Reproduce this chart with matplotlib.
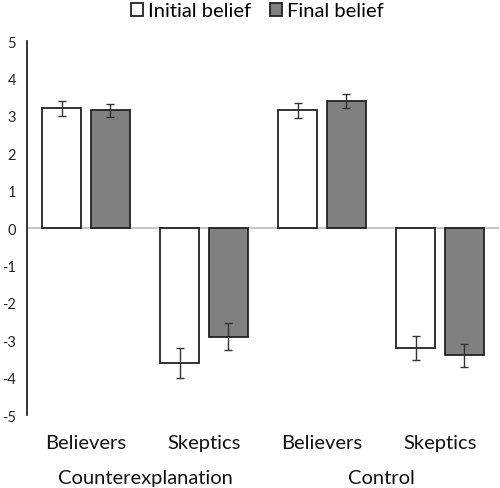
import matplotlib.pyplot as plt
import numpy as np

plt.rcParams['font.family'] = ['Lato', 'DejaVu Sans']

categories = ['Believers', 'Skeptics', 'Believers', 'Skeptics']
groups = ['Counterexplanation', 'Control']
initial = [3.2, -3.6, 3.15, -3.2]
initial_err = [0.2, 0.4, 0.2, 0.32]
final = [3.15, -2.9, 3.4, -3.4]
final_err = [0.17, 0.35, 0.18, 0.3]
yticks = list(range(-5, 6))

fig = plt.figure(figsize=(5.0, 4.89), dpi=100)
ax = fig.add_axes([0.054, 0.149, 0.944, 0.765])

x = np.arange(len(categories))
w = 0.335
off = 0.207
ek = dict(ecolor='#333333', elinewidth=1, capsize=3, capthick=1)
ax.bar(x - off, initial, w, color='white', edgecolor='#222222', linewidth=1.3,
       yerr=initial_err, error_kw=ek, label='Initial belief')
ax.bar(x + off, final, w, color='#808080', edgecolor='#222222', linewidth=1.3,
       yerr=final_err, error_kw=ek, label='Final belief')

ax.axhline(0, color='#bbbbbb', lw=1.2, zorder=0)
ax.set_xlim(-0.5, 3.5)
ax.set_ylim(-5, 5)
ax.set_yticks(yticks)
ax.set_yticklabels([str(t) for t in yticks])
ax.tick_params(axis='y', length=0, pad=8, labelsize=10.5, colors='#222222')
ax.set_xticks([])
for s in ['top', 'right', 'bottom']:
    ax.spines[s].set_visible(False)
ax.spines['left'].set_color('#111111')
ax.spines['left'].set_linewidth(1.2)

for i, c in enumerate(categories):
    ax.text(i, -5.73, c, ha='center', va='center', fontsize=14.5, color='#111111')
for j, g in enumerate(groups):
    ax.text(0.5 + 2 * j, -6.68, g, ha='center', va='center', fontsize=14.5, color='#111111')

leg = fig.legend(loc='upper center', bbox_to_anchor=(0.515, 1.03), ncol=2, frameon=False,
                 fontsize=14.5, handlelength=0.6, handleheight=0.6, handletextpad=0.25,
                 columnspacing=0.9)

fig.savefig('out.png', dpi=100)
